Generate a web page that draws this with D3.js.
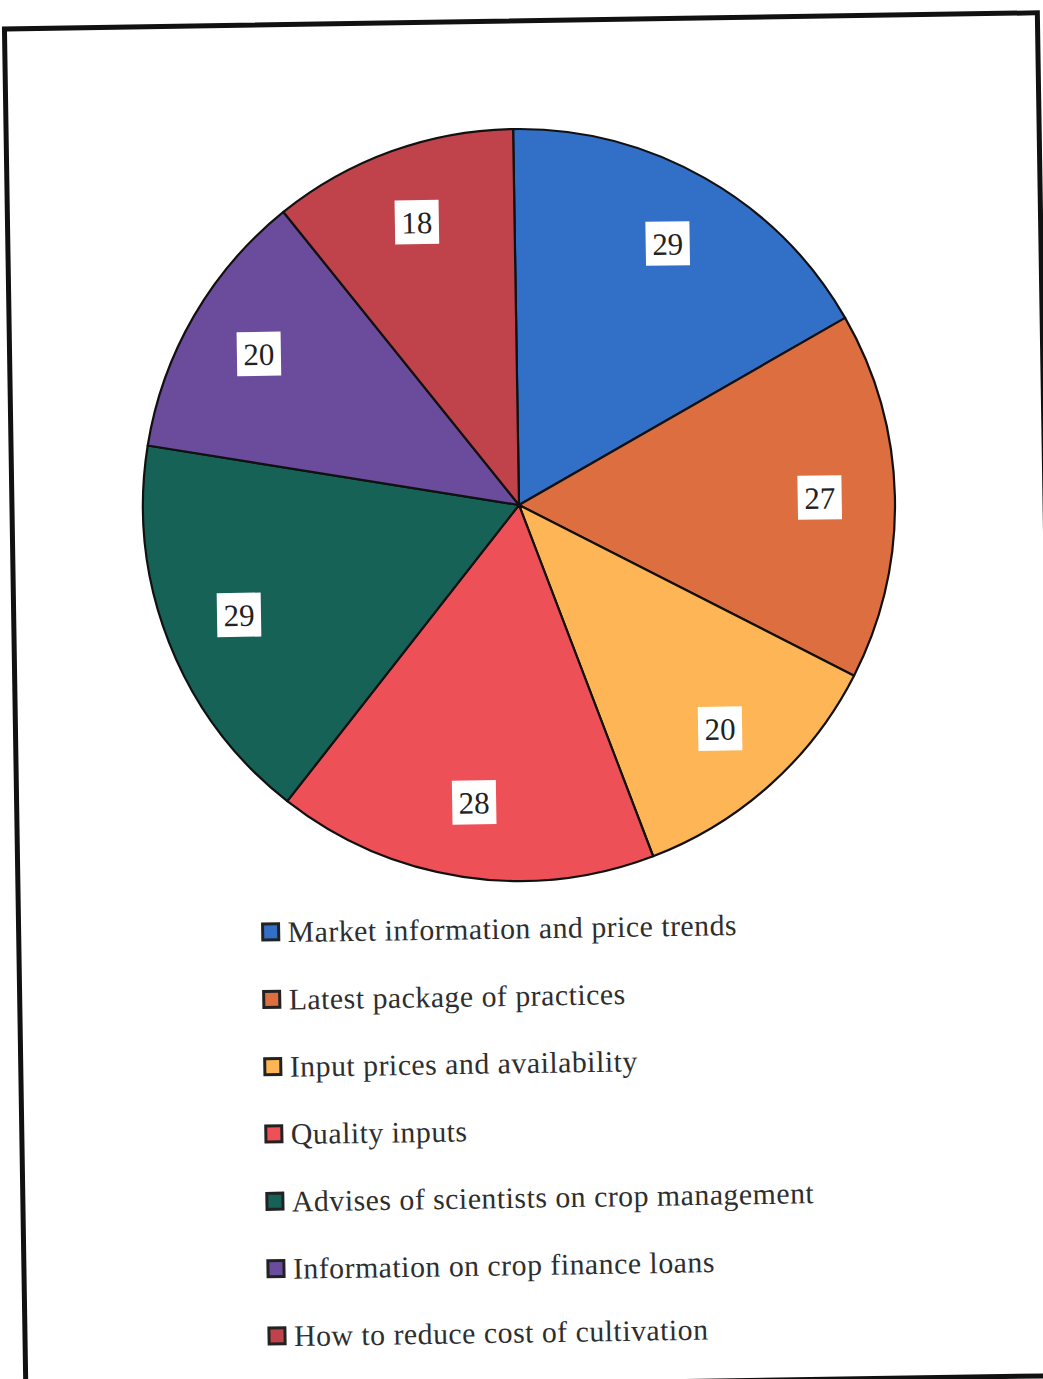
<!DOCTYPE html>
<html>
<head>
<meta charset="utf-8">
<script src="https://cdn.jsdelivr.net/npm/d3@7"></script>
<style>
  html, body { margin: 0; padding: 0; background: #ffffff; }
  svg { display: block; }
</style>
</head>
<body>
<svg id="chart" width="1043" height="1379"></svg>
<script>
// Information needs of respondents (number of responses)
const categories = [
  "Market information and price trends",
  "Latest package of practices",
  "Input prices and availability",
  "Quality inputs",
  "Advises of scientists on crop management",
  "Information on crop finance loans",
  "How to reduce cost of cultivation"
];
const values = [29, 27, 20, 28, 29, 20, 18];
const colors = ["#3270c8", "#dc6e40", "#fdb556", "#ee5058", "#176256", "#6b4c9c", "#c0434c"];

// pick the first Times-like face that is actually installed
function pickSerif() {
  const ctx = document.createElement("canvas").getContext("2d");
  const sample = "Market information 0123456789 Wgy";
  const names = ["Liberation Serif", "Times New Roman", "Tinos", "Nimbus Roman", "Nimbus Roman No9 L", "FreeSerif", "Noto Serif", "DejaVu Serif"];
  for (const n of names) {
    ctx.font = `40px "${n}", monospace`;
    const a = ctx.measureText(sample).width;
    ctx.font = `40px "${n}", sans-serif`;
    const b = ctx.measureText(sample).width;
    if (Math.abs(a - b) < 0.01) return `"${n}", serif`;
  }
  return "serif";
}
const serif = pickSerif();

const cx = 519, cy = 505, R = 376;
const tilt = -0.9;

const svg = d3.select("#chart");
const root = svg.append("g").attr("transform", `rotate(${tilt},${cx},${cy})`);

// frame around the figure
root.append("rect")
  .attr("x", 12).attr("y", 21)
  .attr("width", 1033).attr("height", 1363)
  .attr("fill", "none")
  .attr("stroke", "#111")
  .attr("stroke-width", 5);

const data = categories.map((c, i) => ({ name: c, value: values[i], color: colors[i] }));

const pie = d3.pie().value(d => d.value).sort(null);
const arcs = pie(data);
const arc = d3.arc().innerRadius(0).outerRadius(R);
const labelArc = d3.arc().innerRadius(R * 0.8).outerRadius(R * 0.8);

const pg = root.append("g").attr("transform", `translate(${cx},${cy})`);
pg.selectAll("path.slice")
  .data(arcs)
  .join("path")
  .attr("class", "slice")
  .attr("d", arc)
  .attr("fill", d => d.data.color)
  .attr("stroke", "#111")
  .attr("stroke-width", 2.2)
  .attr("stroke-linejoin", "round");

const lbl = pg.selectAll("g.lbl")
  .data(arcs)
  .join("g")
  .attr("class", "lbl")
  .attr("transform", d => `translate(${labelArc.centroid(d)})`);
lbl.append("rect")
  .attr("x", -22).attr("y", -22)
  .attr("width", 44).attr("height", 44)
  .attr("fill", "#ffffff");
lbl.append("text")
  .style("font-family", serif)
  .attr("text-anchor", "middle")
  .attr("dy", "0.36em")
  .attr("font-size", 31)
  .attr("fill", "#222")
  .text(d => d.data.value);

// legend
const ly = d3.scalePoint().domain(categories).range([928, 1332]);
const lg = root.append("g");
const item = lg.selectAll("g.item")
  .data(data)
  .join("g")
  .attr("class", "item")
  .attr("transform", d => `translate(264,${ly(d.name)})`);
item.append("rect")
  .attr("x", -8).attr("y", -8)
  .attr("width", 16).attr("height", 16)
  .attr("fill", d => d.color)
  .attr("stroke", "#222")
  .attr("stroke-width", 3);
const lt = item.append("text")
  .style("font-family", serif)
  .attr("x", 17)
  .attr("dy", "0.35em")
  .attr("font-size", 29)
  .attr("letter-spacing", 0.5)
  .attr("fill", "#2e2e2e")
  .text(d => d.name);

// size the legend type so the first entry spans about 450px
const w0 = lt.node().getComputedTextLength();
const fs = Math.max(24, Math.min(34, 29 * 450 / w0));
lt.attr("font-size", fs);
</script>
</body>
</html>
